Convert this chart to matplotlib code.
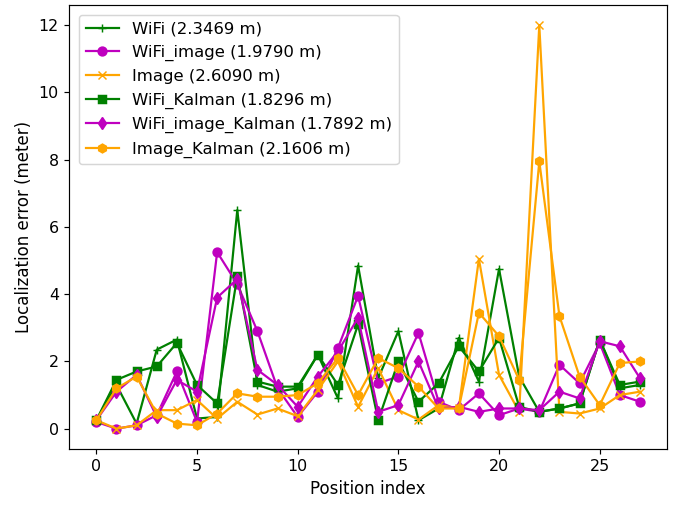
import matplotlib.pyplot as plt
import numpy as np

positions = np.arange(28)

wifi = [0.25, 1.3, 0.15, 2.35, 2.65, 0.3, 0.35, 6.5, 1.3, 1.1, 1.2, 2.2, 0.9, 4.85,
        1.5, 2.9, 0.25, 0.6, 2.7, 1.4, 4.75, 1.55, 0.5, 0.6, 0.75, 2.65, 1.2, 1.3]
wifi_image = [0.2, 0.0, 0.1, 0.4, 1.7, 0.2, 5.25, 4.3, 2.9, 1.2, 0.35, 1.1, 2.4, 3.95,
              1.35, 1.55, 2.85, 0.8, 0.55, 1.05, 0.4, 0.6, 0.5, 1.9, 1.35, 2.55, 1.0, 0.8]
image = [0.25, 0.0, 0.1, 0.55, 0.55, 0.85, 0.3, 0.8, 0.42, 0.6, 0.37, 1.15, 2.0, 0.65,
         1.8, 0.55, 0.27, 0.7, 0.6, 5.05, 1.6, 0.5, 12.0, 0.5, 0.45, 0.6, 1.0, 1.1]
wifi_kalman = [0.25, 1.45, 1.7, 1.85, 2.55, 1.3, 0.75, 4.55, 1.4, 1.25, 1.25, 2.2, 1.3, 3.1,
               0.25, 2.0, 0.8, 1.35, 2.45, 1.7, 2.7, 0.65, 0.5, 0.6, 0.75, 2.65, 1.3, 1.4]
wifi_image_kalman = [0.25, 1.1, 1.6, 0.35, 1.45, 1.1, 3.9, 4.45, 1.75, 1.3, 0.65, 1.55, 2.3, 3.3,
                     0.5, 0.7, 2.0, 0.6, 0.65, 0.5, 0.6, 0.6, 0.55, 1.1, 0.9, 2.6, 2.45, 1.5]
image_kalman = [0.25, 1.2, 1.55, 0.45, 0.15, 0.1, 0.45, 1.05, 0.95, 0.95, 1.0, 1.35, 2.1, 1.0,
                2.1, 1.8, 1.25, 0.6, 0.6, 3.45, 2.75, 1.45, 7.95, 3.35, 1.55, 0.7, 1.95, 2.0]

labels = ["WiFi (2.3469 m)", "WiFi_image (1.9790 m)", "Image (2.6090 m)",
          "WiFi_Kalman (1.8296 m)", "WiFi_image_Kalman (1.7892 m)", "Image_Kalman (2.1606 m)"]

plt.rcParams['xtick.labelsize'] = 10.8
plt.rcParams['ytick.labelsize'] = 10.8

fig = plt.figure(figsize=(678 / 106, 506 / 106), dpi=106)
ax = fig.add_axes([0.102, 0.113, 0.882, 0.877])

ax.plot(positions, wifi, marker='+', color='green', label=labels[0])
ax.plot(positions, wifi_image, marker='o', color='m', label=labels[1])
ax.plot(positions, image, marker='x', color='orange', label=labels[2])
ax.plot(positions, wifi_kalman, marker='s', color='green', label=labels[3])
ax.plot(positions, wifi_image_kalman, marker='d', color='m', label=labels[4])
ax.plot(positions, image_kalman, marker='h', color='orange', label=labels[5])

ax.set_xlabel('Position index', fontsize=11.3)
ax.set_ylabel('Localization error (meter)', fontsize=11.3)
ax.legend(loc='upper left', fontsize=11.2, borderaxespad=0.6)

fig.savefig('out.png', dpi=106)
